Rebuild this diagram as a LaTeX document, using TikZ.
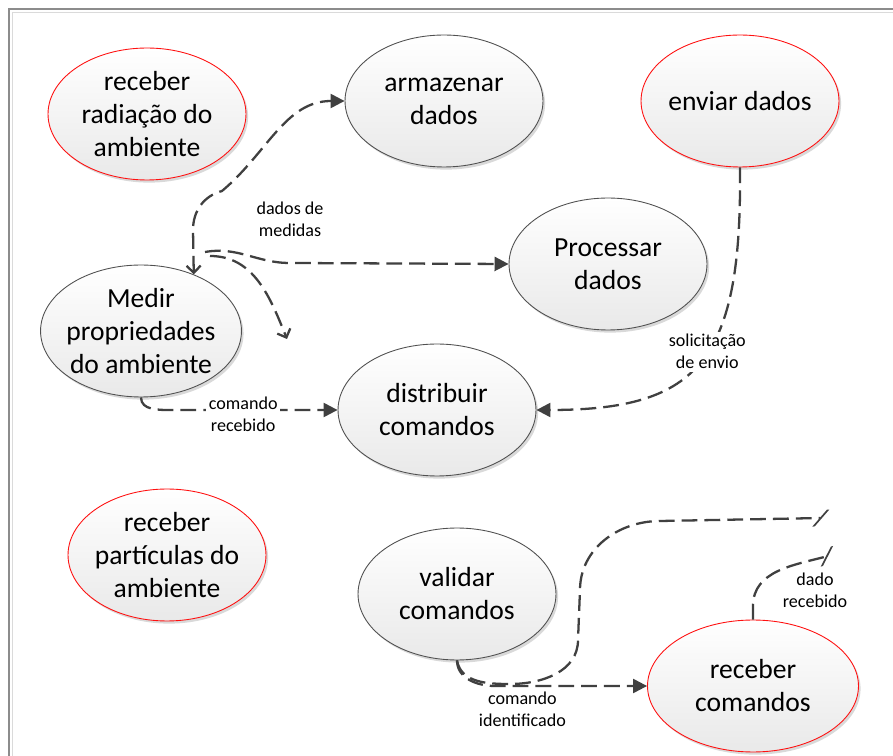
\documentclass[tikz,border=0pt]{standalone}
\usepackage{fontspec}
\setmainfont{Carlito}
\usepackage{tikz}
\usetikzlibrary{shapes.geometric, arrows.meta, shadows}
\definecolor{ovalFill}{HTML}{E9E9E9}
\definecolor{ovalStroke}{HTML}{505050}
\definecolor{redStroke}{HTML}{FF1010}
\definecolor{flowStroke}{HTML}{404040}
\definecolor{frameOuter}{HTML}{8C8C8C}
\definecolor{frameInner}{HTML}{DADADA}
\tikzset{
  base/.style={
    ellipse, minimum width=3.96cm, minimum height=2.64cm,
    inner sep=-2pt, align=center,
    top color=white, bottom color=ovalFill,
    draw, line width=0.5pt,
    drop shadow={shadow xshift=1.2pt, shadow yshift=-1.5pt, opacity=.15, fill=black},
    font=\fontsize{15.7}{18.8}\selectfont
  },
  grayOval/.style={base, draw=ovalStroke},
  redOval/.style={base, draw=redStroke},
  flow/.style={flowStroke, line width=1.3pt, dash pattern=on 9pt off 4pt},
  lbl/.style={font=\fontsize{10.3}{12.5}\selectfont, text=black, align=center, inner sep=1.5pt},
  head/.tip={Triangle[length=8pt, width=8pt]},
  vtip/.tip={Straight Barb[length=4pt, width=8pt]},
  slash/.tip={Bar[width=9.5pt, slant=.9]},
}

\begin{document}
\begin{tikzpicture}[x=0.02cm, y=-0.02cm]
    \useasboundingbox (0,0) rectangle (893,756);
    \fill[white] (0,0) rectangle (893,756);
    \draw[frameOuter, line width=1.2pt] (9,756) -- (9,9) -- (893,9);
    \draw[frameInner, line width=.5pt] (12.5,756) -- (12.5,12.5) -- (893,12.5);

    \node[redOval] (rad) at (147,114) {receber\\radiação do\\ambiente};
    \node[grayOval] (arm) at (444,101) {armazenar\\dados};
    \node[redOval] (env) at (740,101) {enviar dados};
    \node[grayOval] (mdr) at (141,331) {Medir\\propriedades\\do ambiente};
    \node[grayOval] (prc) at (608,264) {Processar\\dados};
    \node[grayOval] (dst) at (437,410) {distribuir\\comandos};
    \node[redOval] (prt) at (167,555) {receber\\partículas do\\ambiente};
    \node[grayOval] (vld) at (457,594) {validar\\comandos};
    \node[redOval, minimum width=4.22cm] (rcm) at (753,686) {receber\\comandos};

    \coordinate (bsrc) at (205,252);
    \coordinate (csrc) at (210,256);
    \coordinate (cend) at (287,339);
    \coordinate (gend) at (822,518);
    \coordinate (hend) at (828,556);

    \draw[flow, {vtip}-{head}]
      (mdr.47) -- (193,230) to[out=90,in=195] (222,191) to[out=40,in=180] (arm.west);
    \draw[flow, -{head}]
      (bsrc) to[out=10,in=180] (290,263) -- (prc.west);
    \node[lbl] (lmed) at (290,219) {dados de\\medidas};
    \draw[flow, -{vtip}]
      (csrc) to[out=0,in=112] (cend);
    \draw[flow, -{head}]
      (mdr.south) to[out=-90,in=180] (172,410) -- (dst.west)
      node[lbl, fill=white, pos=.43, yshift=-0.08cm] {comando\\recebido};
    \draw[flow, -{head}]
      (env.south) .. controls (742,360) and (700,410) .. (dst.east)
      node[lbl, fill=white, pos=.46] {solicitação\\de envio};
    \draw[flow, -{head}]
      (vld.south) to[out=-90,in=180] (495,686) -- (rcm.west)
      node[lbl, below=1pt, pos=.18] {comando\\identificado};
    \draw[flow, -{slash}]
      (vld.south) to[out=-80,in=180] (510,684) to[out=0,in=-90] (578,640)
      -- (580,590) to[out=90,in=180] (660,521) -- (gend);
    \draw[flow, -{slash}]
      (rcm.north) -- (753,606) to[out=90,in=195] (hend);
    \node[lbl] (lrcb) at (815,590) {dado\\recebido};
  \end{tikzpicture}
\end{document}
